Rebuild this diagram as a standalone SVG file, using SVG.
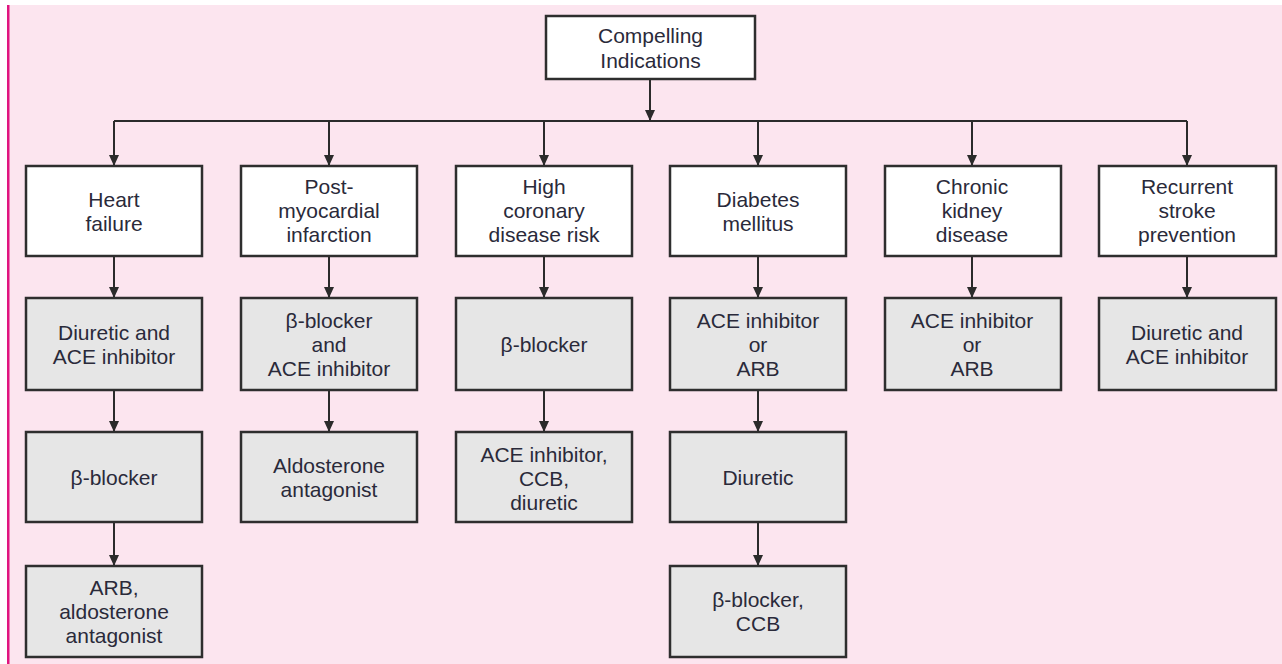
<svg xmlns="http://www.w3.org/2000/svg" width="1282" height="664" viewBox="0 0 1282 664">
<defs>
<marker id="ah" markerUnits="userSpaceOnUse" markerWidth="11" markerHeight="10" refX="11" refY="5" orient="auto">
<path d="M0,0 L11,5 L0,10 z" fill="#2b2b2b"/>
</marker>
<style>
.bx{stroke:#2e2e2e;stroke-width:2.5;}
.w{fill:#ffffff;}
.g{fill:#e6e6e6;}
.t{font-family:"Liberation Sans",Arial,sans-serif;font-size:21px;fill:#2a2a3a;text-anchor:middle;}
.c{stroke:#2b2b2b;stroke-width:2;fill:none;}
.a{marker-end:url(#ah);}
</style>
</defs>
<rect x="0" y="0" width="1282" height="664" fill="#ffffff"/>
<rect x="7" y="5" width="1275" height="659" fill="#fce5ef"/>
<rect x="7" y="5" width="2.5" height="659" fill="#e0147f"/>

<g id="connectors">
<path class="c" d="M114,121 H1187"/>
<path class="c a" d="M650,79 V121"/>
<path class="c a" d="M114,121 V166"/>
<path class="c a" d="M329,121 V166"/>
<path class="c a" d="M544,121 V166"/>
<path class="c a" d="M758,121 V166"/>
<path class="c a" d="M972,121 V166"/>
<path class="c a" d="M1187,121 V166"/>
<path class="c a" d="M114,256 V298"/>
<path class="c a" d="M329,256 V298"/>
<path class="c a" d="M544,256 V298"/>
<path class="c a" d="M758,256 V298"/>
<path class="c a" d="M972,256 V298"/>
<path class="c a" d="M1187,256 V298"/>
<path class="c a" d="M114,390 V432"/>
<path class="c a" d="M329,390 V432"/>
<path class="c a" d="M544,390 V432"/>
<path class="c a" d="M758,390 V432"/>
<path class="c a" d="M114,522 V566"/>
<path class="c a" d="M758,522 V566"/>
</g>

<g id="root">
<rect class="bx w" x="546" y="16" width="209" height="63"/>
<text class="t" x="650.5" y="43">Compelling</text>
<text class="t" x="650.5" y="68">Indications</text>
</g>

<g id="hf">
<rect class="bx w" x="26" y="166" width="176" height="90"/>
<text class="t" x="114" y="207">Heart</text>
<text class="t" x="114" y="231">failure</text>
</g>
<g id="hf1">
<rect class="bx g" x="26" y="298" width="176" height="92"/>
<text class="t" x="114" y="340">Diuretic and</text>
<text class="t" x="114" y="364">ACE inhibitor</text>
</g>
<g id="hf2">
<rect class="bx g" x="26" y="432" width="176" height="90"/>
<text class="t" x="114" y="485">β-blocker</text>
</g>
<g id="hf3">
<rect class="bx g" x="26" y="566" width="176" height="91"/>
<text class="t" x="114" y="595">ARB,</text>
<text class="t" x="114" y="619">aldosterone</text>
<text class="t" x="114" y="643">antagonist</text>
</g>

<g id="pmi">
<rect class="bx w" x="241" y="166" width="176" height="90"/>
<text class="t" x="329" y="194">Post-</text>
<text class="t" x="329" y="218">myocardial</text>
<text class="t" x="329" y="242">infarction</text>
</g>
<g id="pmi1">
<rect class="bx g" x="241" y="298" width="176" height="92"/>
<text class="t" x="329" y="328">β-blocker</text>
<text class="t" x="329" y="352">and</text>
<text class="t" x="329" y="376">ACE inhibitor</text>
</g>
<g id="pmi2">
<rect class="bx g" x="241" y="432" width="176" height="90"/>
<text class="t" x="329" y="473">Aldosterone</text>
<text class="t" x="329" y="497">antagonist</text>
</g>

<g id="hcd">
<rect class="bx w" x="456" y="166" width="176" height="90"/>
<text class="t" x="544" y="194">High</text>
<text class="t" x="544" y="218">coronary</text>
<text class="t" x="544" y="242">disease risk</text>
</g>
<g id="hcd1">
<rect class="bx g" x="456" y="298" width="176" height="92"/>
<text class="t" x="544" y="352">β-blocker</text>
</g>
<g id="hcd2">
<rect class="bx g" x="456" y="432" width="176" height="90"/>
<text class="t" x="544" y="462">ACE inhibitor,</text>
<text class="t" x="544" y="486">CCB,</text>
<text class="t" x="544" y="510">diuretic</text>
</g>

<g id="dm">
<rect class="bx w" x="670" y="166" width="176" height="90"/>
<text class="t" x="758" y="207">Diabetes</text>
<text class="t" x="758" y="231">mellitus</text>
</g>
<g id="dm1">
<rect class="bx g" x="670" y="298" width="176" height="92"/>
<text class="t" x="758" y="328">ACE inhibitor</text>
<text class="t" x="758" y="352">or</text>
<text class="t" x="758" y="376">ARB</text>
</g>
<g id="dm2">
<rect class="bx g" x="670" y="432" width="176" height="90"/>
<text class="t" x="758" y="485">Diuretic</text>
</g>
<g id="dm3">
<rect class="bx g" x="670" y="566" width="176" height="91"/>
<text class="t" x="758" y="607">β-blocker,</text>
<text class="t" x="758" y="631">CCB</text>
</g>

<g id="ckd">
<rect class="bx w" x="885" y="166" width="176" height="90"/>
<text class="t" x="972" y="194">Chronic</text>
<text class="t" x="972" y="218">kidney</text>
<text class="t" x="972" y="242">disease</text>
</g>
<g id="ckd1">
<rect class="bx g" x="885" y="298" width="176" height="92"/>
<text class="t" x="972" y="328">ACE inhibitor</text>
<text class="t" x="972" y="352">or</text>
<text class="t" x="972" y="376">ARB</text>
</g>

<g id="rsp">
<rect class="bx w" x="1099" y="166" width="177" height="90"/>
<text class="t" x="1187" y="194">Recurrent</text>
<text class="t" x="1187" y="218">stroke</text>
<text class="t" x="1187" y="242">prevention</text>
</g>
<g id="rsp1">
<rect class="bx g" x="1099" y="298" width="177" height="92"/>
<text class="t" x="1187" y="340">Diuretic and</text>
<text class="t" x="1187" y="364">ACE inhibitor</text>
</g>
</svg>
